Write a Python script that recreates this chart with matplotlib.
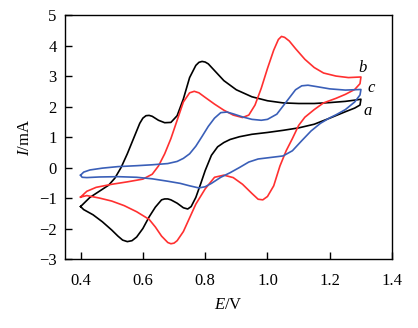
import numpy as np
import matplotlib
matplotlib.use("Agg")
import matplotlib.pyplot as plt

plt.rcParams['font.family'] = ['Liberation Serif', 'DejaVu Serif']
plt.rcParams['mathtext.fontset'] = 'custom'
plt.rcParams['mathtext.it'] = 'Liberation Serif:italic'
plt.rcParams['mathtext.rm'] = 'Liberation Serif'

# curve a (black): potential E/V and current I/mA
a_E = [0.400, 0.430, 0.460, 0.490, 0.510, 0.530, 0.550, 0.570, 0.590, 0.600,
       0.610, 0.620, 0.630, 0.650, 0.670, 0.690, 0.710, 0.730, 0.750, 0.770,
       0.780, 0.790, 0.800, 0.810, 0.830, 0.860, 0.900, 0.950, 1.000, 1.050,
       1.100, 1.150, 1.200, 1.250, 1.280, 1.300, 1.297, 1.280, 1.250, 1.200,
       1.150, 1.100, 1.050, 1.000, 0.950, 0.910, 0.880, 0.860, 0.840, 0.820,
       0.800, 0.785, 0.770, 0.755, 0.744, 0.730, 0.710, 0.690, 0.680, 0.670,
       0.660, 0.640, 0.620, 0.600, 0.580, 0.565, 0.550, 0.535, 0.520, 0.500,
       0.470, 0.440, 0.410, 0.400]
a_I = [-1.28, -0.98, -0.78, -0.58, -0.35, 0.00, 0.45, 0.95, 1.45, 1.62,
       1.70, 1.71, 1.68, 1.55, 1.47, 1.48, 1.70, 2.25, 2.95, 3.35,
       3.45, 3.48, 3.46, 3.40, 3.18, 2.85, 2.55, 2.32, 2.19, 2.12,
       2.10, 2.10, 2.13, 2.17, 2.21, 2.24, 2.05, 1.95, 1.83, 1.62,
       1.42, 1.30, 1.22, 1.15, 1.09, 1.01, 0.92, 0.82, 0.68, 0.40,
       -0.10, -0.55, -0.98, -1.28, -1.36, -1.32, -1.17, -1.06, -1.03, -1.03,
       -1.06, -1.30, -1.62, -2.00, -2.28, -2.40, -2.43, -2.38, -2.25, -2.05,
       -1.78, -1.55, -1.38, -1.28]

# curve b (red)
b_E = [0.400, 0.420, 0.450, 0.500, 0.550, 0.600, 0.630, 0.650, 0.670, 0.690,
       0.710, 0.730, 0.750, 0.765, 0.780, 0.800, 0.830, 0.860, 0.890, 0.920,
       0.940, 0.960, 0.980, 1.000, 1.020, 1.035, 1.045, 1.055, 1.070, 1.090,
       1.120, 1.150, 1.180, 1.220, 1.260, 1.300, 1.297, 1.280, 1.250, 1.220,
       1.180, 1.150, 1.120, 1.100, 1.080, 1.060, 1.040, 1.020, 1.000, 0.985,
       0.970, 0.950, 0.920, 0.890, 0.860, 0.830, 0.800, 0.770, 0.750, 0.730,
       0.710, 0.700, 0.690, 0.680, 0.660, 0.640, 0.620, 0.580, 0.540, 0.500,
       0.460, 0.420, 0.400]
b_I = [-0.97, -0.78, -0.65, -0.55, -0.47, -0.38, -0.22, 0.05, 0.45, 0.95,
       1.55, 2.15, 2.45, 2.50, 2.45, 2.30, 2.08, 1.88, 1.72, 1.64,
       1.72, 2.05, 2.60, 3.25, 3.85, 4.20, 4.30, 4.27, 4.15, 3.90,
       3.55, 3.28, 3.10, 3.00, 2.95, 2.97, 2.75, 2.56, 2.40, 2.27,
       2.12, 1.90, 1.65, 1.38, 0.95, 0.55, 0.05, -0.60, -0.95, -1.06,
       -1.04, -0.85, -0.55, -0.33, -0.25, -0.32, -0.70, -1.20, -1.65, -2.10,
       -2.40, -2.48, -2.50, -2.46, -2.25, -1.95, -1.70, -1.45, -1.25, -1.10,
       -1.00, -0.92, -0.97]

# curve c (blue)
c_E = [0.400, 0.410, 0.430, 0.470, 0.520, 0.580, 0.630, 0.680, 0.710, 0.730,
       0.750, 0.770, 0.790, 0.810, 0.830, 0.850, 0.870, 0.890, 0.920, 0.950,
       0.980, 1.000, 1.030, 1.060, 1.090, 1.110, 1.130, 1.160, 1.200, 1.250,
       1.300, 1.297, 1.280, 1.250, 1.220, 1.200, 1.170, 1.140, 1.110, 1.080,
       1.050, 1.010, 0.970, 0.940, 0.910, 0.880, 0.850, 0.820, 0.800, 0.780,
       0.750, 0.720, 0.680, 0.630, 0.580, 0.520, 0.460, 0.420, 0.405, 0.400]
c_I = [-0.25, -0.15, -0.08, -0.02, 0.03, 0.06, 0.09, 0.13, 0.20, 0.30,
       0.45, 0.70, 1.02, 1.35, 1.62, 1.80, 1.82, 1.76, 1.66, 1.58,
       1.55, 1.58, 1.75, 2.15, 2.55, 2.68, 2.70, 2.65, 2.58, 2.54,
       2.56, 2.38, 2.15, 1.90, 1.73, 1.63, 1.45, 1.20, 0.88, 0.55,
       0.38, 0.33, 0.28, 0.18, 0.00, -0.17, -0.32, -0.52, -0.63, -0.67,
       -0.60, -0.52, -0.45, -0.37, -0.32, -0.30, -0.31, -0.33, -0.32, -0.25]

fig = plt.figure(figsize=(4.18, 3.28), dpi=100)
ax = fig.add_axes([0.1555, 0.2104, 0.7825, 0.7436])

ax.plot(a_E, a_I, color='black', lw=1.2)
ax.plot(b_E, b_I, color='#ff3030', lw=1.2)
ax.plot(c_E, c_I, color='#3a5fb8', lw=1.2)

ax.text(1.305, 3.28, 'b', style='italic', fontsize=12, ha='center', va='center')
ax.text(1.333, 2.62, 'c', style='italic', fontsize=12, ha='center', va='center')
ax.text(1.322, 1.87, 'a', style='italic', fontsize=12, ha='center', va='center')

ax.set_xlim(0.35, 1.4)
ax.set_ylim(-3, 5)
ax.set_xticks([0.4, 0.6, 0.8, 1.0, 1.2, 1.4])
ax.set_yticks(range(-3, 6))
ax.set_xticklabels(['0.4', '0.6', '0.8', '1.0', '1.2', '1.4'])
ax.set_yticklabels([str(v).replace('-', '\u2212') for v in range(-3, 6)])
ax.tick_params(direction='in', length=5, width=1, labelsize=12,
               top=False, right=False)
ax.tick_params(axis='x', pad=10)
ax.tick_params(axis='y', pad=6)
for s in ax.spines.values():
    s.set_linewidth(1.0)

ax.set_xlabel('$E$/V', fontsize=12, labelpad=6)
ax.set_ylabel('$I$/mA', fontsize=12, labelpad=4)

fig.savefig('out.png', dpi=100)
